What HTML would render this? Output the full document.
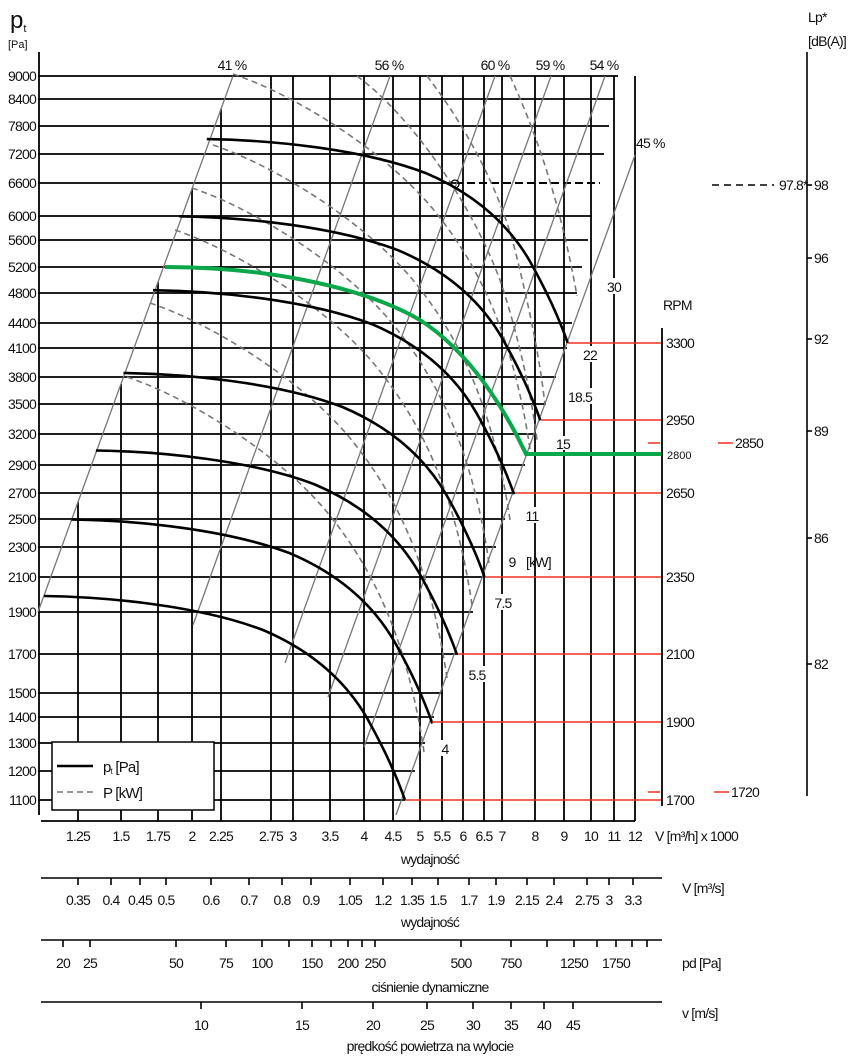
<!DOCTYPE html>
<html><head><meta charset="utf-8"><style>
html,body{margin:0;padding:0;background:#fff;}
svg{display:block;font-family:"Liberation Sans",sans-serif;}
text{font-size:14px;letter-spacing:-0.8px;fill:#111;}
</style></head><body>
<svg width="850" height="1056" viewBox="0 0 850 1056" xmlns="http://www.w3.org/2000/svg">
<defs>
<path id="pc" d="M44,596 C110,597 200,606 263,630 C310,650 345,680 367,718 C385,750 398,780 405,800" fill="none" stroke="#000" stroke-width="2.6"/>
<path id="dc" d="M0,0 C60,20 150,75 200,135 C245,190 280,260 297,375" fill="none" stroke="#777" stroke-width="1.6" stroke-dasharray="6,4"/>
</defs>
<g stroke="#000" stroke-width="1.8">
<line x1="38" y1="76" x2="618" y2="76"/>
<line x1="38" y1="99" x2="614" y2="99"/>
<line x1="38" y1="126" x2="609" y2="126"/>
<line x1="38" y1="154" x2="604" y2="154"/>
<line x1="38" y1="183" x2="455" y2="183"/>
<line x1="38" y1="216" x2="592" y2="216"/>
<line x1="38" y1="240" x2="588" y2="240"/>
<line x1="38" y1="267" x2="582" y2="267"/>
<line x1="38" y1="293" x2="577" y2="293"/>
<line x1="38" y1="323" x2="572" y2="323"/>
<line x1="38" y1="348" x2="567" y2="348"/>
<line x1="38" y1="377" x2="556" y2="377"/>
<line x1="38" y1="404" x2="546" y2="404"/>
<line x1="38" y1="434" x2="535" y2="434"/>
<line x1="38" y1="465" x2="525" y2="465"/>
<line x1="38" y1="493" x2="515" y2="493"/>
<line x1="38" y1="519" x2="505" y2="519"/>
<line x1="38" y1="547" x2="496" y2="547"/>
<line x1="38" y1="577" x2="485" y2="577"/>
<line x1="38" y1="612" x2="473" y2="612"/>
<line x1="38" y1="654" x2="458" y2="654"/>
<line x1="38" y1="693" x2="443" y2="693"/>
<line x1="38" y1="717" x2="434" y2="717"/>
<line x1="38" y1="743" x2="425" y2="743"/>
<line x1="38" y1="771" x2="415" y2="771"/>
<line x1="38" y1="800" x2="405" y2="800"/>
</g>
<line x1="455" y1="183" x2="600" y2="183" stroke="#000" stroke-width="2" stroke-dasharray="8,4"/>
<g stroke="#000" stroke-width="1.8">
<line x1="39" y1="52" x2="39" y2="815"/>
<line x1="78" y1="502" x2="78" y2="821"/>
<line x1="121" y1="384" x2="121" y2="821"/>
<line x1="158" y1="282" x2="158" y2="821"/>
<line x1="192" y1="189" x2="192" y2="821"/>
<line x1="221" y1="109" x2="221" y2="821"/>
<line x1="271" y1="76" x2="271" y2="821"/>
<line x1="293" y1="76" x2="293" y2="821"/>
<line x1="330" y1="76" x2="330" y2="821"/>
<line x1="364" y1="76" x2="364" y2="821"/>
<line x1="393" y1="76" x2="393" y2="821"/>
<line x1="420" y1="76" x2="420" y2="821"/>
<line x1="442" y1="76" x2="442" y2="821"/>
<line x1="463" y1="76" x2="463" y2="821"/>
<line x1="484" y1="76" x2="484" y2="821"/>
<line x1="502" y1="76" x2="502" y2="821"/>
<line x1="535" y1="76" x2="535" y2="821"/>
<line x1="564" y1="76" x2="564" y2="821"/>
<line x1="591" y1="76" x2="591" y2="821"/>
<line x1="614" y1="76" x2="614" y2="821"/>
<line x1="635" y1="76" x2="635" y2="821"/>
<line x1="41" y1="821" x2="635" y2="821"/>
</g>
<g stroke="#777" stroke-width="1.3">
<line x1="233" y1="76" x2="38" y2="612"/>
<line x1="390" y1="76" x2="193" y2="625"/>
<line x1="495" y1="76" x2="285" y2="663"/>
<line x1="551" y1="76" x2="328" y2="697"/>
<line x1="605" y1="76" x2="364" y2="747"/>
<line x1="635" y1="155" x2="396" y2="815"/>
</g>
<use href="#dc" transform="translate(127,377)"/>
<use href="#dc" transform="translate(150,303)"/>
<use href="#dc" transform="translate(175,230)"/>
<use href="#dc" transform="translate(192,188)"/>
<use href="#dc" transform="translate(213,145)"/>
<use href="#dc" transform="translate(233,74)"/>
<g fill="none" stroke="#777" stroke-width="1.6" stroke-dasharray="6,4">
<path d="M357,76 C410,115 470,200 500,280 C520,340 532,400 537,440"/>
<path d="M427,76 C465,125 500,190 515,250 C530,310 540,360 545,405"/>
<path d="M510,76 C535,130 560,200 577,296"/>
</g>
<use href="#pc"/>
<use href="#pc" transform="translate(27.3,-76.6)"/>
<use href="#pc" transform="translate(51.9,-145.5)"/>
<use href="#pc" transform="translate(79.5,-223)"/>
<use href="#pc" transform="translate(109,-305.8)"/>
<use href="#pc" transform="translate(135.3,-379.7)"/>
<use href="#pc" transform="translate(162.8,-456.9)"/>
<path d="M165,267 C260,267 360,285 420,320 C470,352 505,410 526,454 L661,454" fill="none" stroke="#0aa84a" stroke-width="4"/>
<circle cx="455" cy="184" r="4" fill="none" stroke="#000" stroke-width="1.3"/>
<g stroke="#f03020" stroke-width="1.5">
<line x1="568" y1="343" x2="661" y2="343"/>
<line x1="541" y1="420" x2="661" y2="420"/>
<line x1="515" y1="493" x2="661" y2="493"/>
<line x1="485" y1="577" x2="661" y2="577"/>
<line x1="458" y1="654" x2="661" y2="654"/>
<line x1="432" y1="722" x2="661" y2="722"/>
<line x1="405" y1="800" x2="661" y2="800"/>
<line x1="648" y1="443" x2="660" y2="443"/>
<line x1="718" y1="443" x2="733" y2="443"/>
<line x1="648" y1="792" x2="660" y2="792"/>
<line x1="714" y1="792" x2="729" y2="792"/>
</g>
<line x1="662" y1="328" x2="662" y2="806" stroke="#000" stroke-width="1.8"/>
<g stroke="#000" stroke-width="1.6">
<line x1="807" y1="52" x2="807" y2="796"/>
<line x1="807" y1="185" x2="812" y2="185"/><line x1="807" y1="258" x2="812" y2="258"/>
<line x1="807" y1="339" x2="812" y2="339"/><line x1="807" y1="431" x2="812" y2="431"/>
<line x1="807" y1="538" x2="812" y2="538"/><line x1="807" y1="664" x2="812" y2="664"/>
</g>
<line x1="712" y1="185" x2="774" y2="185" stroke="#000" stroke-width="1.5" stroke-dasharray="7,5"/>
<g fill="#fff">
<rect x="606" y="278" width="17" height="16"/><rect x="582" y="346" width="17" height="16"/>
<rect x="568" y="388" width="25" height="16"/><rect x="553" y="436" width="19" height="14"/>
<rect x="524" y="507" width="17" height="16"/><rect x="506" y="553" width="12" height="16"/>
<rect x="493" y="594" width="21" height="16"/><rect x="467" y="666" width="21" height="16"/>
<rect x="440" y="740" width="10" height="16"/>
</g>
<text x="614" y="292" text-anchor="middle">30</text>
<text x="590" y="360" text-anchor="middle">22</text>
<text x="580" y="402" text-anchor="middle">18.5</text>
<text x="563" y="449" text-anchor="middle">15</text>
<text x="532" y="521" text-anchor="middle">11</text>
<text x="512" y="567" text-anchor="middle">9</text>
<text x="526" y="567">[kW]</text>
<text x="503" y="608" text-anchor="middle">7.5</text>
<text x="477" y="680" text-anchor="middle">5.5</text>
<text x="445" y="754" text-anchor="middle">4</text>
<text x="232" y="70" text-anchor="middle">41 %</text>
<text x="389" y="70" text-anchor="middle">56 %</text>
<text x="495" y="70" text-anchor="middle">60 %</text>
<text x="550" y="70" text-anchor="middle">59 %</text>
<text x="604" y="70" text-anchor="middle">54 %</text>
<text x="636" y="148">45 %</text>
<text x="10" y="28" style="font-size:24px;letter-spacing:0">p<tspan style="font-size:11px" dy="4">t</tspan></text>
<text x="8" y="48" style="font-size:11px;letter-spacing:0">[Pa]</text>
<g text-anchor="end">
<text x="36" y="81">9000</text><text x="36" y="104">8400</text><text x="36" y="131">7800</text>
<text x="36" y="159">7200</text><text x="36" y="188">6600</text><text x="36" y="221">6000</text>
<text x="36" y="245">5600</text><text x="36" y="272">5200</text><text x="36" y="298">4800</text>
<text x="36" y="328">4400</text><text x="36" y="353">4100</text><text x="36" y="382">3800</text>
<text x="36" y="409">3500</text><text x="36" y="439">3200</text><text x="36" y="470">2900</text>
<text x="36" y="498">2700</text><text x="36" y="524">2500</text><text x="36" y="552">2300</text>
<text x="36" y="582">2100</text><text x="36" y="617">1900</text><text x="36" y="659">1700</text>
<text x="36" y="698">1500</text><text x="36" y="722">1400</text><text x="36" y="748">1300</text>
<text x="36" y="776">1200</text><text x="36" y="805">1100</text>
</g>
<text x="663" y="310">RPM</text>
<text x="666" y="348">3300</text><text x="666" y="425">2950</text>
<text x="667" y="459" style="font-size:11px;letter-spacing:0">2800</text>
<text x="666" y="498">2650</text><text x="666" y="582">2350</text><text x="666" y="659">2100</text>
<text x="666" y="727">1900</text><text x="666" y="805">1700</text>
<text x="735" y="448">2850</text><text x="731" y="797">1720</text>
<text x="808" y="22">Lp*</text>
<text x="808" y="46">[dB(A)]</text>
<text x="779" y="190">97.8*</text>
<g><text x="814" y="190">98</text><text x="814" y="263">96</text><text x="814" y="344">92</text>
<text x="814" y="436">89</text><text x="814" y="543">86</text><text x="814" y="669">82</text></g>
<rect x="52" y="742" width="162" height="68" fill="#fff" stroke="#000" stroke-width="1.5"/>
<line x1="57" y1="766" x2="93" y2="766" stroke="#000" stroke-width="2.6"/>
<line x1="57" y1="792" x2="93" y2="792" stroke="#777" stroke-width="1.5" stroke-dasharray="6,4"/>
<text x="103" y="772" style="font-size:15px">p<tspan style="font-size:8px" dy="2">t</tspan><tspan dy="-2"> [Pa]</tspan></text>
<text x="103" y="798" style="font-size:15px">P [kW]</text>
<g text-anchor="middle">
<text x="78" y="841">1.25</text><text x="121" y="841">1.5</text><text x="158" y="841">1.75</text>
<text x="192" y="841">2</text><text x="221" y="841">2.25</text><text x="271" y="841">2.75</text>
<text x="293" y="841">3</text><text x="330" y="841">3.5</text><text x="364" y="841">4</text>
<text x="393" y="841">4.5</text><text x="420" y="841">5</text><text x="442" y="841">5.5</text>
<text x="463" y="841">6</text><text x="484" y="841">6.5</text><text x="502" y="841">7</text>
<text x="535" y="841">8</text><text x="564" y="841">9</text><text x="591" y="841">10</text>
<text x="614" y="841">11</text><text x="635" y="841">12</text>
<text x="430" y="864">wydajność</text>
</g>
<text x="655" y="841">V [m³/h]  x 1000</text>
<g stroke="#000" stroke-width="1.6">
<line x1="41" y1="878" x2="662" y2="878"/>
<line x1="78" y1="878" x2="78" y2="885"/><line x1="111" y1="878" x2="111" y2="885"/><line x1="140" y1="878" x2="140" y2="885"/>
<line x1="166" y1="878" x2="166" y2="885"/><line x1="211" y1="878" x2="211" y2="885"/><line x1="249" y1="878" x2="249" y2="885"/>
<line x1="282" y1="878" x2="282" y2="885"/><line x1="311" y1="878" x2="311" y2="885"/><line x1="350" y1="878" x2="350" y2="885"/>
<line x1="383" y1="878" x2="383" y2="885"/><line x1="412" y1="878" x2="412" y2="885"/><line x1="438" y1="878" x2="438" y2="885"/>
<line x1="469" y1="878" x2="469" y2="885"/><line x1="496" y1="878" x2="496" y2="885"/><line x1="527" y1="878" x2="527" y2="885"/>
<line x1="554" y1="878" x2="554" y2="885"/><line x1="587" y1="878" x2="587" y2="885"/><line x1="609" y1="878" x2="609" y2="885"/>
<line x1="633" y1="878" x2="633" y2="885"/>
</g>
<g text-anchor="middle">
<text x="78" y="905">0.35</text><text x="111" y="905">0.4</text><text x="140" y="905">0.45</text>
<text x="166" y="905">0.5</text><text x="211" y="905">0.6</text><text x="249" y="905">0.7</text>
<text x="282" y="905">0.8</text><text x="311" y="905">0.9</text><text x="350" y="905">1.05</text>
<text x="383" y="905">1.2</text><text x="412" y="905">1.35</text><text x="438" y="905">1.5</text>
<text x="469" y="905">1.7</text><text x="496" y="905">1.9</text><text x="527" y="905">2.15</text>
<text x="554" y="905">2.4</text><text x="587" y="905">2.75</text><text x="609" y="905">3</text>
<text x="633" y="905">3.3</text>
<text x="430" y="927">wydajność</text>
</g>
<text x="682" y="893">V  [m³/s]</text>
<g stroke="#000" stroke-width="1.6">
<line x1="41" y1="940" x2="662" y2="940"/>
<line x1="63" y1="940" x2="63" y2="947"/><line x1="90" y1="940" x2="90" y2="947"/><line x1="176" y1="940" x2="176" y2="947"/>
<line x1="226" y1="940" x2="226" y2="947"/><line x1="262" y1="940" x2="262" y2="947"/><line x1="289" y1="940" x2="289" y2="947"/>
<line x1="312" y1="940" x2="312" y2="947"/><line x1="331" y1="940" x2="331" y2="947"/><line x1="348" y1="940" x2="348" y2="947"/>
<line x1="362" y1="940" x2="362" y2="947"/><line x1="375" y1="940" x2="375" y2="947"/><line x1="461" y1="940" x2="461" y2="947"/>
<line x1="511" y1="940" x2="511" y2="947"/><line x1="547" y1="940" x2="547" y2="947"/><line x1="574" y1="940" x2="574" y2="947"/>
<line x1="597" y1="940" x2="597" y2="947"/><line x1="616" y1="940" x2="616" y2="947"/><line x1="632" y1="940" x2="632" y2="947"/>
<line x1="647" y1="940" x2="647" y2="947"/>
</g>
<g text-anchor="middle">
<text x="63" y="968">20</text><text x="90" y="968">25</text><text x="176" y="968">50</text>
<text x="226" y="968">75</text><text x="262" y="968">100</text><text x="312" y="968">150</text>
<text x="348" y="968">200</text><text x="375" y="968">250</text><text x="461" y="968">500</text>
<text x="511" y="968">750</text><text x="574" y="968">1250</text><text x="616" y="968">1750</text>
<text x="430" y="992">ciśnienie dynamiczne</text>
</g>
<text x="682" y="968">pd  [Pa]</text>
<g stroke="#000" stroke-width="1.6">
<line x1="41" y1="1002" x2="662" y2="1002"/>
<line x1="201" y1="1002" x2="201" y2="1009"/><line x1="302" y1="1002" x2="302" y2="1009"/><line x1="373" y1="1002" x2="373" y2="1009"/>
<line x1="427" y1="1002" x2="427" y2="1009"/><line x1="473" y1="1002" x2="473" y2="1009"/><line x1="511" y1="1002" x2="511" y2="1009"/>
<line x1="544" y1="1002" x2="544" y2="1009"/><line x1="573" y1="1002" x2="573" y2="1009"/>
</g>
<g text-anchor="middle">
<text x="201" y="1030">10</text><text x="302" y="1030">15</text><text x="373" y="1030">20</text>
<text x="427" y="1030">25</text><text x="473" y="1030">30</text><text x="511" y="1030">35</text>
<text x="544" y="1030">40</text><text x="573" y="1030">45</text>
<text x="430" y="1051">prędkość powietrza na wylocie</text>
</g>
<text x="682" y="1018">v  [m/s]</text>
</svg>
</body></html>
